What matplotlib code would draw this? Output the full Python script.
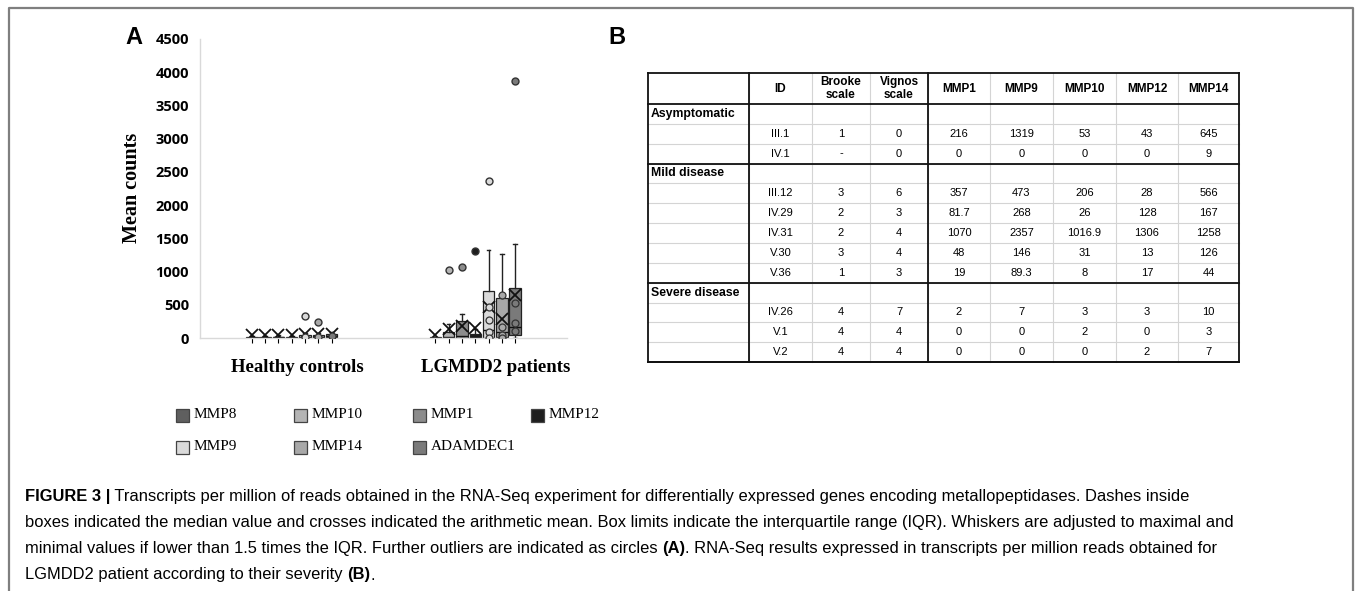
import matplotlib
matplotlib.use("Agg")
import matplotlib.pyplot as plt
from matplotlib.patches import Rectangle
from matplotlib.lines import Line2D

W, H = 1355, 591
fig = plt.figure(figsize=(W / 100, H / 100), dpi=100)

# ---------------- data (panel A) ----------------
series = ["MMP8", "MMP10", "MMP1", "MMP12", "MMP9", "MMP14", "ADAMDEC1"]
colors = ["#5f5f5f", "#b4b4b4", "#8c8c8c", "#1e1e1e", "#dadada", "#a8a8a8", "#7a7a7a"]
groups = ["Healthy controls", "LGMDD2 patients"]
yticks = [0, 500, 1000, 1500, 2000, 2500, 3000, 3500, 4000, 4500]

healthy_q1 = [0, 0, 0, 0, 5, 5, 10]
healthy_med = [5, 5, 10, 5, 20, 20, 30]
healthy_q3 = [15, 15, 20, 15, 50, 45, 60]
healthy_whislo = [0, 0, 0, 0, 0, 0, 0]
healthy_whishi = [30, 30, 40, 30, 80, 80, 90]
healthy_mean = [40, 40, 45, 45, 60, 55, 55]
healthy_fliers = [[], [], [], [], [330], [240], []]
healthy_inner = [[], [], [], [], [20], [20], [30]]

patient_q1 = [0, 0, 0, 2, 0, 8, 50]
patient_med = [2, 20, 30, 15, 117, 85, 160]
patient_q3 = [10, 90, 260, 60, 700, 600, 750]
patient_whislo = [0, 0, 0, 0, 0, 0, 0]
patient_whishi = [20, 210, 357, 128, 1319, 1258, 1410]
patient_mean = [45, 135, 179, 154, 466, 284, 650]
patient_fliers = [[], [1017], [1070], [1306], [2357], [], [3870]]
patient_inner = [[], [], [], [], [473, 268, 89, 0], [645, 167, 44, 3], [530, 225, 105]]

group_q1 = [healthy_q1, patient_q1]
group_med = [healthy_med, patient_med]
group_q3 = [healthy_q3, patient_q3]
group_whislo = [healthy_whislo, patient_whislo]
group_whishi = [healthy_whishi, patient_whishi]
group_mean = [healthy_mean, patient_mean]
group_fliers = [healthy_fliers, patient_fliers]
group_inner = [healthy_inner, patient_inner]

# ---------------- data (panel B) ----------------
table_header = ["", "ID", "Brooke\nscale", "Vignos\nscale", "MMP1", "MMP9", "MMP10", "MMP12", "MMP14"]
table_groups = ["Asymptomatic", "Mild disease", "Severe disease"]
table_ids = [["III.1", "IV.1"],
             ["III.12", "IV.29", "IV.31", "V.30", "V.36"],
             ["IV.26", "V.1", "V.2"]]
table_brooke = [["1", "-"], ["3", "2", "2", "3", "1"], ["4", "4", "4"]]
table_vignos = [["0", "0"], ["6", "3", "4", "4", "3"], ["7", "4", "4"]]
table_mmp1 = [["216", "0"], ["357", "81.7", "1070", "48", "19"], ["2", "0", "0"]]
table_mmp9 = [["1319", "0"], ["473", "268", "2357", "146", "89.3"], ["7", "0", "0"]]
table_mmp10 = [["53", "0"], ["206", "26", "1016.9", "31", "8"], ["3", "2", "0"]]
table_mmp12 = [["43", "0"], ["28", "128", "1306", "13", "17"], ["3", "0", "2"]]
table_mmp14 = [["645", "9"], ["566", "167", "1258", "126", "44"], ["10", "3", "7"]]

caption_lines = [
    [("FIGURE 3 |", True), (" Transcripts per million of reads obtained in the RNA-Seq experiment for differentially expressed genes encoding metallopeptidases. Dashes inside", False)],
    [("boxes indicated the median value and crosses indicated the arithmetic mean. Box limits indicate the interquartile range (IQR). Whiskers are adjusted to maximal and", False)],
    [("minimal values if lower than 1.5 times the IQR. Further outliers are indicated as circles ", False), ("(A)", True), (". RNA-Seq results expressed in transcripts per million reads obtained for", False)],
    [("LGMDD2 patient according to their severity ", False), ("(B)", True), (".", False)],
]

# ---------------- overlay in pixel coordinates ----------------
ov = fig.add_axes([0, 0, 1, 1], zorder=0)
ov.set_xlim(0, W)
ov.set_ylim(H, 0)
ov.axis("off")
ov.patch.set_alpha(0)

# outer frame
ov.add_line(Line2D([9, 9, 1353, 1353], [590, 8, 8, 590], color="#7f7f7f", lw=1.6))

# ---------------- panel A ----------------
ax = fig.add_axes([200 / W, 1 - 338 / H, 367 / W, 299 / H], zorder=2)
ax.patch.set_alpha(0)
ax.set_xlim(0, 2)
ax.set_ylim(0, 4500)
for s in ["top", "right"]:
    ax.spines[s].set_visible(False)
ax.spines["left"].set_color("#d9d9d9")
ax.spines["bottom"].set_color("#d9d9d9")
ax.spines["left"].set_linewidth(1.0)
ax.spines["bottom"].set_linewidth(1.0)
ax.set_xticks([])
ax.set_yticks(yticks)
ax.set_yticklabels([str(v) for v in yticks], fontfamily="Open Sans", fontweight="bold", fontsize=10.5)
ax.tick_params(axis="y", length=0, pad=8)

step = 0.0725
for gi in range(2):
    stats = []
    for si in range(len(series)):
        stats.append(dict(q1=group_q1[gi][si], med=group_med[gi][si], q3=group_q3[gi][si],
                          whislo=group_whislo[gi][si], whishi=group_whishi[gi][si],
                          mean=group_mean[gi][si], fliers=group_fliers[gi][si], label=""))
    pos = [gi + 0.5 + (si - 3) * step for si in range(len(series))]
    bp = ax.bxp(stats, positions=pos, widths=0.062, patch_artist=True, showmeans=True,
                showfliers=True, capwidths=0.02,
                meanprops=dict(marker="x", markeredgecolor="#111111", markersize=8, mew=1.3),
                medianprops=dict(color="#111111", lw=1.0),
                boxprops=dict(edgecolor="#222222", lw=0.9),
                whiskerprops=dict(color="#222222", lw=1.0),
                capprops=dict(color="#222222", lw=1.0),
                flierprops=dict(marker="o", markersize=5, markeredgecolor="#333333", mew=1.0))
    for patch, c in zip(bp["boxes"], colors):
        patch.set_facecolor(c)
    for fl, c in zip(bp["fliers"], colors):
        fl.set_markerfacecolor(c)
    for si in range(len(series)):
        pts = group_inner[gi][si]
        if pts:
            ax.plot([pos[si]] * len(pts), pts, linestyle="none", marker="o", markersize=5,
                    markerfacecolor=colors[si], markeredgecolor="#333333", mew=0.9, zorder=4)

label_x = [0.53, 1.61]
for gi, g in enumerate(groups):
    ax.text(label_x[gi], -29 / 299, g, transform=ax.get_xaxis_transform(), ha="center", va="center",
            fontfamily="Liberation Serif", fontweight="bold", fontsize=13.5)

ov.text(132, 188, "Mean counts", rotation=90, ha="center", va="center",
        fontfamily="Liberation Serif", fontweight="bold", fontsize=14.5)
ov.text(134, 37, "A", ha="center", va="center", fontfamily="Liberation Sans", fontweight="bold", fontsize=17)
ov.text(617, 37, "B", ha="center", va="center", fontfamily="Liberation Sans", fontweight="bold", fontsize=17)

# legend
leg_x = [182, 300, 419, 537]
leg_y = [415, 447]
for i, (name, c) in enumerate(zip(series, colors)):
    cx = leg_x[i % 4]
    cy = leg_y[i // 4]
    ov.add_patch(Rectangle((cx - 6.5, cy - 6.5), 13, 13, facecolor=c, edgecolor="#444444", lw=0.9))
    ov.text(cx + 12, cy, name, ha="left", va="center", fontfamily="Liberation Serif", fontsize=11)

# ---------------- panel B (table) ----------------
col_edges = [648, 749, 812, 870, 928, 990, 1053, 1116, 1178, 1239]
top, header_bottom, row_h = 73, 104, 19.85
rows = []
for g, ids, b, v, m1, m9, m10, m12, m14 in zip(table_groups, table_ids, table_brooke, table_vignos,
                                                table_mmp1, table_mmp9, table_mmp10, table_mmp12, table_mmp14):
    rows.append(("group", [g] + [""] * 8))
    for k in range(len(ids)):
        rows.append(("data", ["", ids[k], b[k], v[k], m1[k], m9[k], m10[k], m12[k], m14[k]]))
n_rows = len(rows)
bottom = header_bottom + n_rows * row_h

# thin grid
for r in range(1, n_rows):
    y = header_bottom + r * row_h
    ov.add_line(Line2D([col_edges[0], col_edges[-1]], [y, y], color="#d4d4d4", lw=0.8))
for x in col_edges[1:-1]:
    ov.add_line(Line2D([x, x], [top, bottom], color="#d4d4d4", lw=0.8))
# thick lines
thick_y = [top, header_bottom, bottom]
r = 0
for g, ids in zip(table_groups, table_ids):
    r += 1 + len(ids)
    thick_y.append(header_bottom + r * row_h)
for y in thick_y:
    ov.add_line(Line2D([col_edges[0], col_edges[-1]], [y, y], color="#111111", lw=1.3))
for x in [col_edges[0], col_edges[1], col_edges[4], col_edges[-1]]:
    ov.add_line(Line2D([x, x], [top, bottom], color="#111111", lw=1.3))

for ci, h in enumerate(table_header):
    if h:
        cx = (col_edges[ci] + col_edges[ci + 1]) / 2
        ov.text(cx, (top + header_bottom) / 2, h, ha="center", va="center", fontfamily="Liberation Sans",
                fontweight="bold", fontsize=8.5, linespacing=1.05)
for ri, (kind, vals) in enumerate(rows):
    cy = header_bottom + (ri + 0.5) * row_h
    if kind == "group":
        ov.text(col_edges[0] + 3, cy, vals[0], ha="left", va="center", fontfamily="Liberation Sans",
                fontweight="bold", fontsize=8.8)
    else:
        for ci in range(1, 9):
            cx = (col_edges[ci] + col_edges[ci + 1]) / 2
            ov.text(cx, cy, vals[ci], ha="center", va="center", fontfamily="Liberation Sans", fontsize=8)

# ---------------- caption ----------------
renderer = fig.canvas.get_renderer()
cap_y = [497, 523, 549, 575]
for y, segs in zip(cap_y, caption_lines):
    x = 25
    for txt, bold in segs:
        t = ov.text(x, y, txt, ha="left", va="center", fontfamily="Liberation Sans",
                    fontweight="bold" if bold else "normal", fontsize=11.9)
        bb = t.get_window_extent(renderer=renderer)
        x += bb.width

fig.savefig("out.png", dpi=100)
